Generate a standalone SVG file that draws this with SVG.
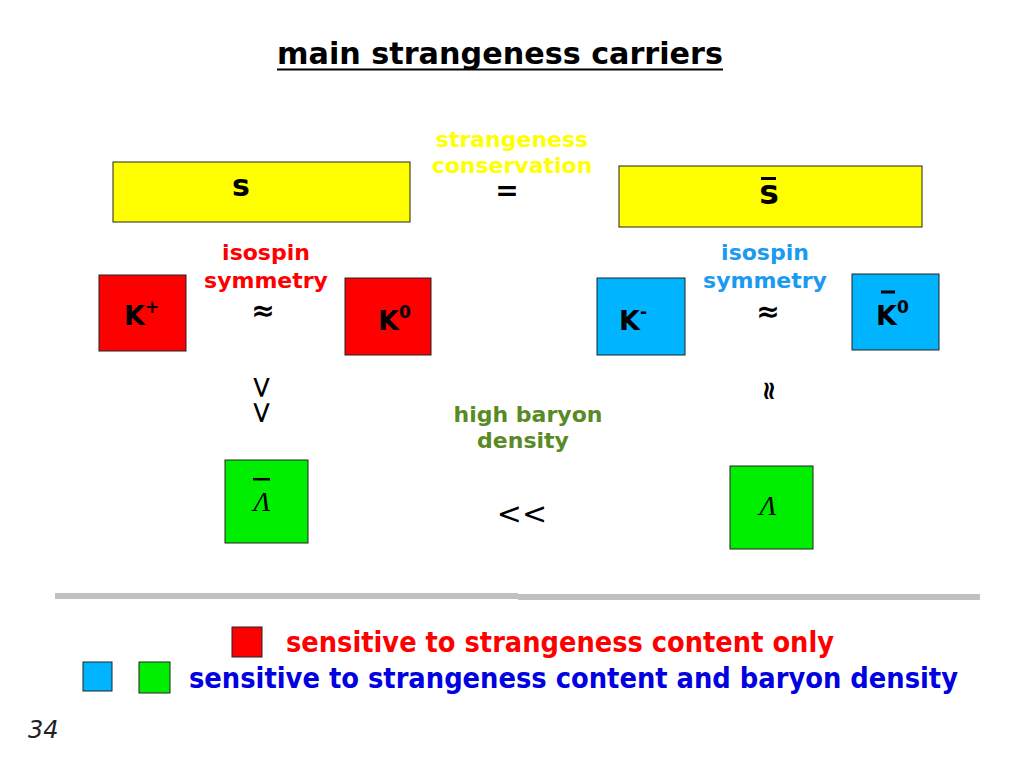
<svg xmlns="http://www.w3.org/2000/svg" width="1023" height="768" viewBox="0 0 1023 768">
<style>
text{font-family:"DejaVu Sans","Liberation Sans",sans-serif;font-weight:bold}
.box{stroke:#222;stroke-width:1}
.y{fill:#ffff00}.r{fill:#ff0000}.b{fill:#00b4ff}.g{fill:#00ee00}
.lbl{font-size:27px;fill:#000}
.sup{font-size:17px}
.lam{font-family:"Liberation Serif",serif;font-style:italic;font-weight:normal;font-size:28px;fill:#000}
.two{font-size:22px;text-anchor:middle}
.rel{fill:#000;text-anchor:middle}
.leg{font-family:"DejaVu Sans Condensed","DejaVu Sans",sans-serif;font-stretch:condensed;font-size:28px}
</style>
<rect width="1023" height="768" fill="#fff"/>
<g id="title">
<text x="500" y="64" font-size="30" text-anchor="middle" fill="#000" textLength="446" lengthAdjust="spacingAndGlyphs">main strangeness carriers</text>
<rect x="277" y="68.5" width="446" height="2" fill="#000"/>
</g>
<g id="s-quark">
<rect class="box y" x="113" y="162" width="297" height="60"/>
<text x="241" y="196" font-size="30" text-anchor="middle" fill="#000">s</text>
</g>
<g id="sbar-quark">
<rect class="box y" x="619" y="166" width="303" height="61"/>
<text x="769" y="204" font-size="33" text-anchor="middle" fill="#000">s</text>
<rect x="761" y="177" width="15" height="3" fill="#000"/>
</g>
<g id="Kplus">
<rect class="box r" x="99" y="275" width="87" height="76"/>
<text class="lbl" x="124" y="325">K<tspan class="sup" dy="-12">+</tspan></text>
</g>
<g id="K0">
<rect class="box r" x="345" y="278" width="86" height="77"/>
<text class="lbl" x="378" y="330">K<tspan class="sup" dy="-12">0</tspan></text>
</g>
<g id="Kminus">
<rect class="box b" x="597" y="278" width="88" height="77"/>
<text class="lbl" x="619" y="330">K<tspan class="sup" dy="-12">-</tspan></text>
</g>
<g id="K0bar">
<rect class="box b" x="852" y="274" width="87" height="76"/>
<text class="lbl" x="876" y="325">K<tspan class="sup" dy="-12">0</tspan></text>
<rect x="881" y="290.5" width="14" height="3" fill="#000"/>
</g>
<g id="Lambdabar">
<rect class="box g" x="225" y="460" width="83" height="83"/>
<text class="lam" x="262" y="511" text-anchor="middle">Λ</text>
<rect x="253" y="478" width="17" height="2.5" fill="#000"/>
</g>
<g id="Lambda">
<rect class="box g" x="730" y="466" width="83" height="83"/>
<text class="lam" x="768" y="515" text-anchor="middle">Λ</text>
</g>
<g id="labels">
<text class="two" fill="#ffff00"><tspan x="512" y="147">strangeness</tspan><tspan x="512" y="173">conservation</tspan></text>
<text class="two" fill="#ff0000"><tspan x="266" y="260">isospin</tspan><tspan x="266" y="288">symmetry</tspan></text>
<text class="two" fill="#1a9af0"><tspan x="765" y="260">isospin</tspan><tspan x="765" y="288">symmetry</tspan></text>
<text class="two" fill="#5a8a26"><tspan x="528" y="422">high baryon</tspan><tspan x="523" y="448">density</tspan></text>
</g>
<g id="relations">
<text class="rel" x="507" y="200" font-size="28">=</text>
<text class="rel" x="263" y="320" font-size="28">≈</text>
<text class="rel" x="768" y="321" font-size="28">≈</text>
<text class="rel" x="522" y="524" font-size="30" style="font-weight:normal">&lt;&lt;</text>
<text class="rel" font-size="30" style="font-weight:normal" transform="translate(262,400) rotate(90)" x="0" y="9.6">&gt;&gt;</text>
<text class="rel" font-size="26" transform="translate(769,391) rotate(90)" x="0" y="8.3">≈</text>
</g>
<g id="separator">
<rect x="55" y="593" width="463" height="6" fill="#c0c0c0"/>
<rect x="518" y="594" width="462" height="6" fill="#c0c0c0"/>
</g>
<g id="legend">
<rect class="box r" x="232" y="627" width="30" height="30"/>
<rect class="box b" x="83" y="662" width="29" height="29"/>
<rect class="box g" x="139" y="662" width="31" height="31"/>
<text class="leg" x="286" y="652" fill="#ff0000" textLength="548" lengthAdjust="spacingAndGlyphs">sensitive to strangeness content only</text>
<text class="leg" x="189" y="688" fill="#0000e0" textLength="769" lengthAdjust="spacingAndGlyphs">sensitive to strangeness content and baryon density</text>
</g>
<text id="page" x="28" y="738" font-size="24" style="font-weight:normal;font-style:italic" fill="#222">34</text>
</svg>
